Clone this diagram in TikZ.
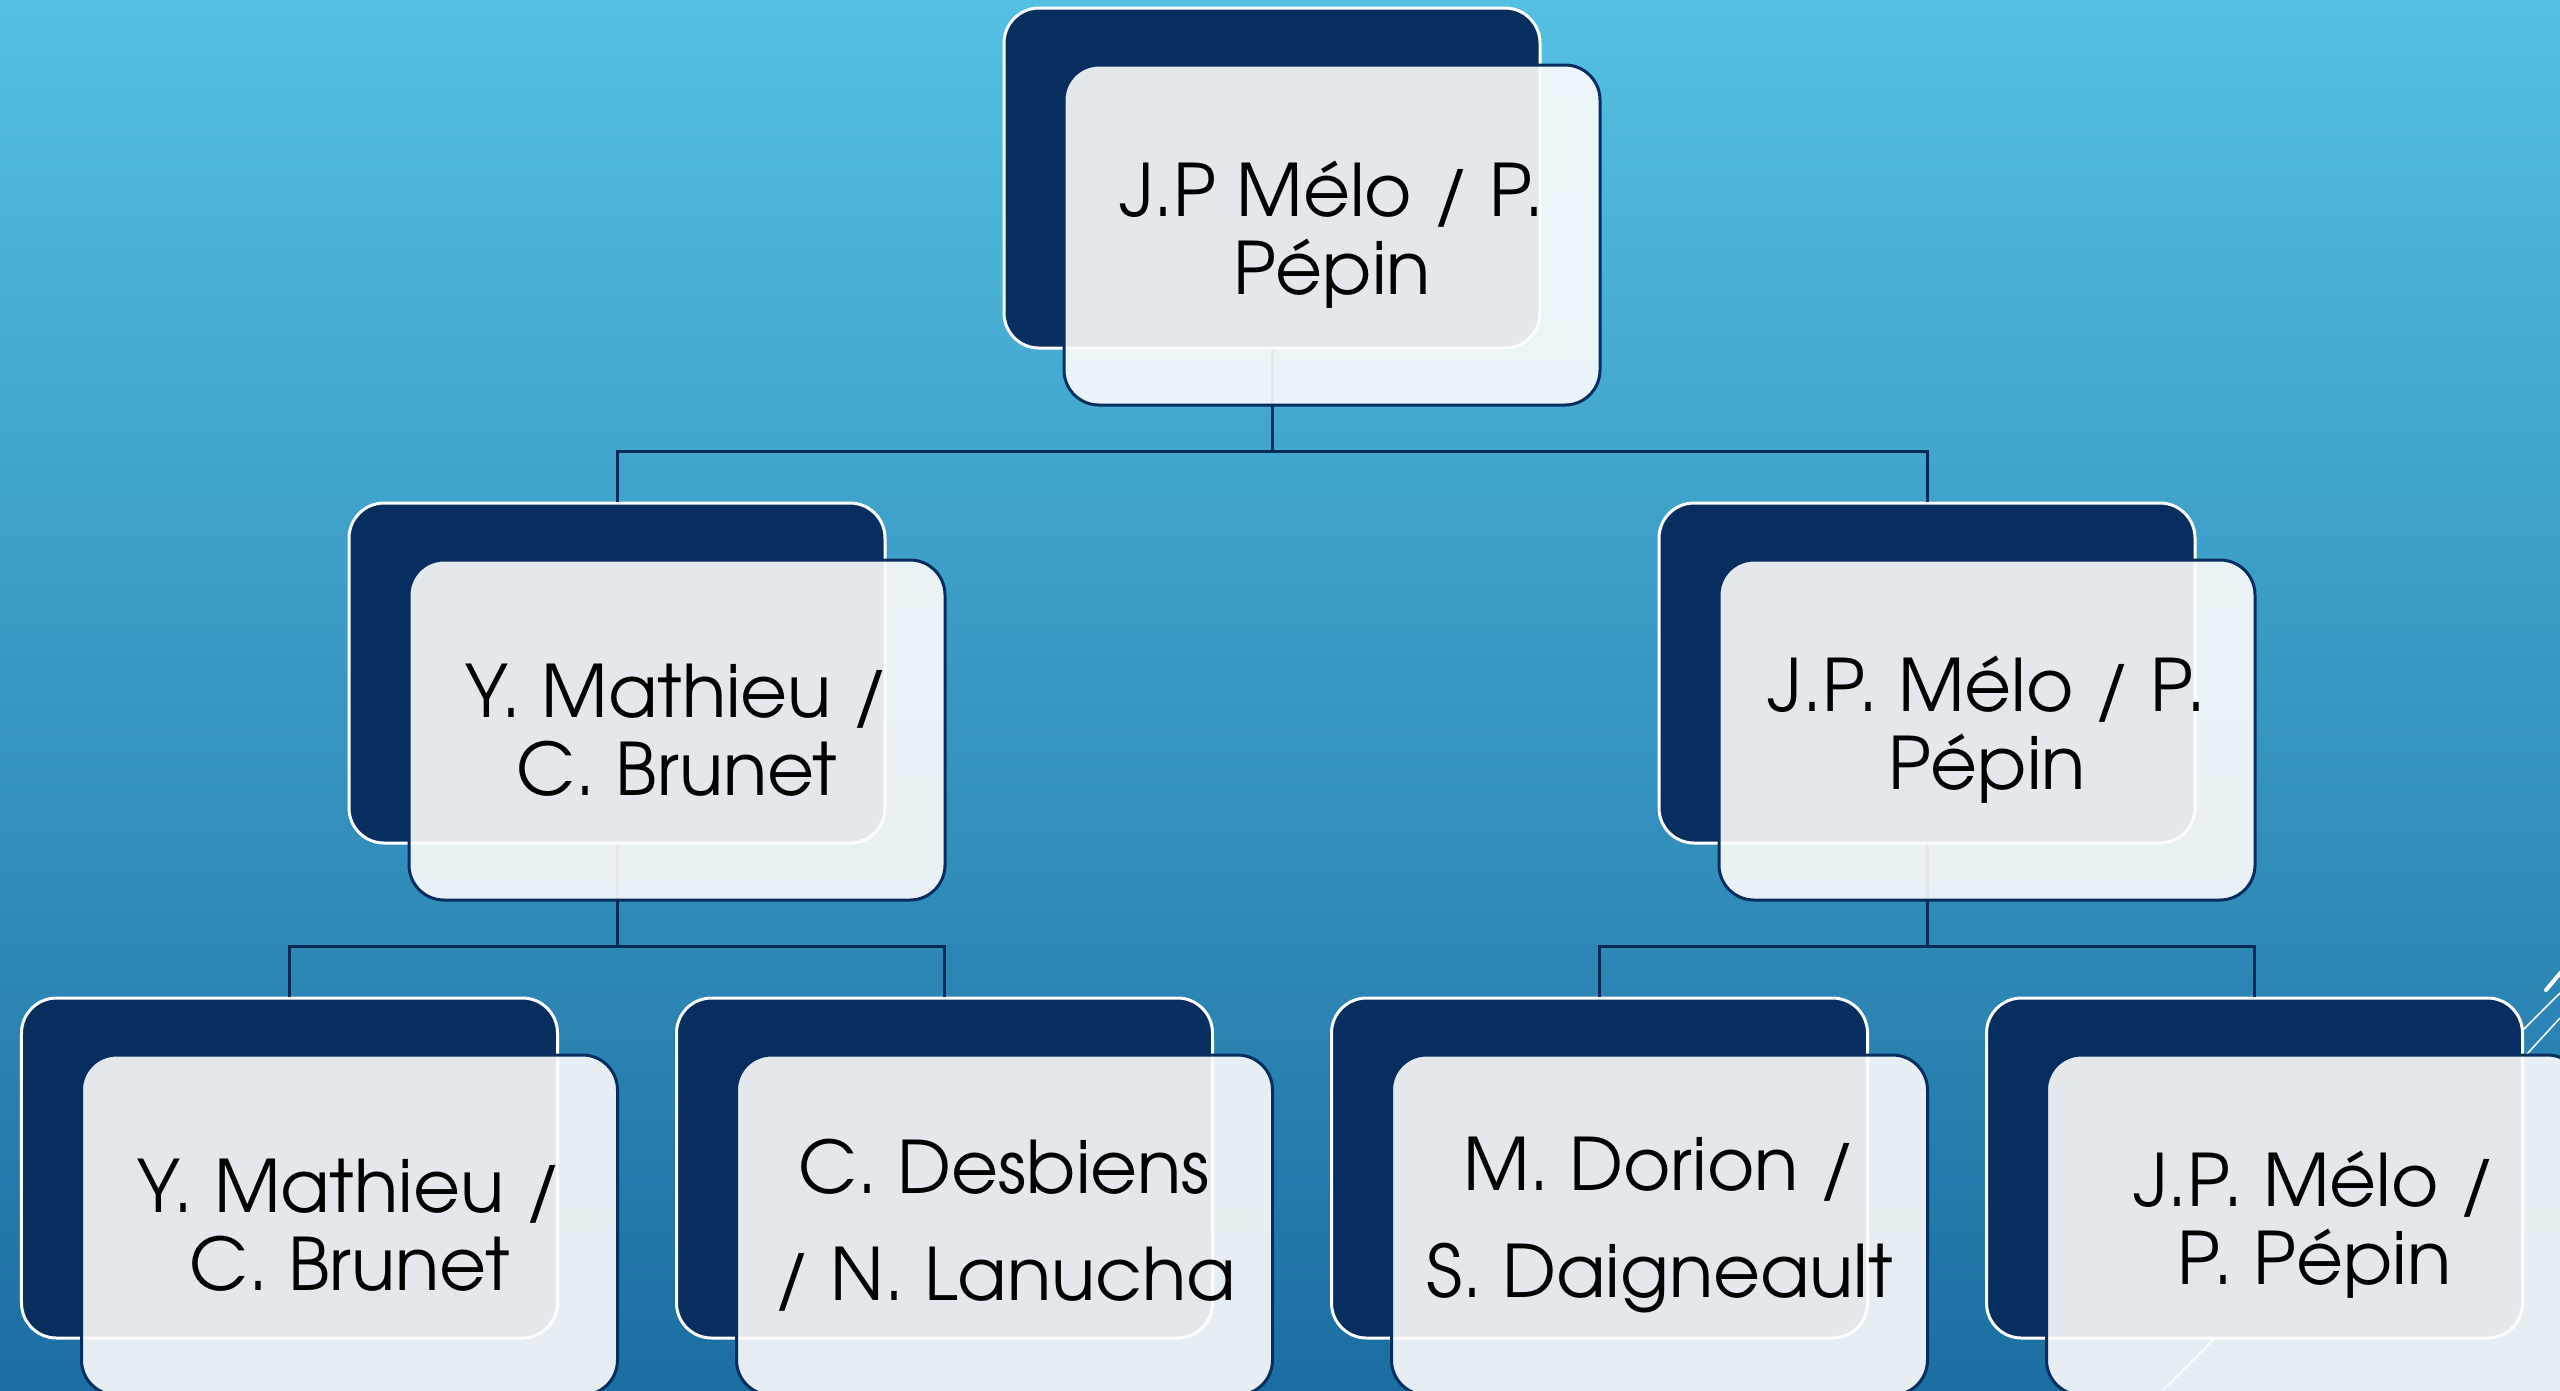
\documentclass[tikz,border=0pt]{standalone}
\usepackage{fontspec}
\setmainfont{TeX Gyre Adventor}
\usepackage{tikz}
\definecolor{marine}{RGB}{7,46,94}
\definecolor{trait}{RGB}{9,42,88}
\definecolor{cielhaut}{RGB}{84,192,226}
\definecolor{cielbas}{RGB}{28,110,162}
\definecolor{voile}{RGB}{253,252,252}
\tikzset{
    back/.style={rectangle, rounded corners=3.5mm, draw=white, fill=marine, line width=0.3mm, minimum width=5.36cm, minimum height=3.4cm, inner sep=0pt},
    front/.style={rectangle, rounded corners=3.5mm, draw=marine, fill=voile, fill opacity=0.9, line width=0.3mm, minimum width=5.36cm, minimum height=3.4cm, inner sep=0pt},
    conn/.style={-, trait, line width=0.3mm},
    lbl/.style={align=center, text=black, font=\fontsize{20.6}{22.2}\selectfont},
    lblwide/.style={lbl, font=\fontsize{20.6}{30.6}\selectfont},
    deco/.style={white, line width=0.15mm},
}

\begin{document}
\begin{tikzpicture}[
        level distance=4.95cm,
        level 1/.style={sibling distance=13.1cm},
        level 2/.style={sibling distance=6.55cm},
        edge from parent/.style={draw=none},
        ]
        \useasboundingbox (0,0) rectangle (25.6,-13.9);
        \shade[top color=cielhaut, bottom color=cielbas] (0,0) rectangle (25.6,-13.9);

        % slide decoration, bottom right
        \draw[deco] (21.63,-13.9) -- (25.6,-9.93);
        \draw[deco] (25.26,-10.55) -- (25.6,-10.18);
        \draw[deco, line width=0.4mm, line cap=round] (25.46,-9.9) -- (25.62,-9.71);

        \node [back] (r) at (12.72,-1.78) {}
            child{
                node [back] (ch1) {}
                child{node[back] (ch1a) {}}
                child{node[back] (ch1b) {}}
            }
            child{
                node [back] (ch2) {}
                child{node[back] (ch2a) {}}
                child{node[back] (ch2b) {}}
            };

        \draw[conn] (r.south) |- ([yshift=5mm]ch1.north) -- (ch1.north);
        \draw[conn] (r.south) |- ([yshift=5mm]ch2.north) -- (ch2.north);

        \draw[conn] (ch1.south) |- ([yshift=5mm]ch1a.north) -- (ch1a.north);
        \draw[conn] (ch1.south) |- ([yshift=5mm]ch1b.north) -- (ch1b.north);

        \draw[conn] (ch2.south) |- ([yshift=5mm]ch2a.north) -- (ch2a.north);
        \draw[conn] (ch2.south) |- ([yshift=5mm]ch2b.north) -- (ch2b.north);

        \node[front] (fr) at ([shift={(0.6,-0.57)}]r) {};
        \node[front] (f1) at ([shift={(0.6,-0.57)}]ch1) {};
        \node[front] (f2) at ([shift={(0.6,-0.57)}]ch2) {};
        \node[front] (f1a) at ([shift={(0.6,-0.57)}]ch1a) {};
        \node[front] (f1b) at ([shift={(0.6,-0.57)}]ch1b) {};
        \node[front] (f2a) at ([shift={(0.6,-0.57)}]ch2a) {};
        \node[front] (f2b) at ([shift={(0.6,-0.57)}]ch2b) {};

        \node[lbl] (tr) at (fr) {J.P Mélo / P.\\Pépin};
        \node[lbl] (t1) at (f1) {Y. Mathieu /\\C. Brunet};
        \node[lbl] (t2) at (f2) {J.P. Mélo / P.\\Pépin};
        \node[lbl] (t1a) at (f1a) {Y. Mathieu /\\C. Brunet};
        \node[lblwide] (t1b) at (f1b) {C. Desbiens\\/ N. Lanucha};
        \node[lblwide] (t2a) at (f2a) {M. Dorion /\\S. Daigneault};
        \node[lbl] (t2b) at (f2b) {J.P. Mélo /\\P. Pépin};
\end{tikzpicture}
\end{document}
